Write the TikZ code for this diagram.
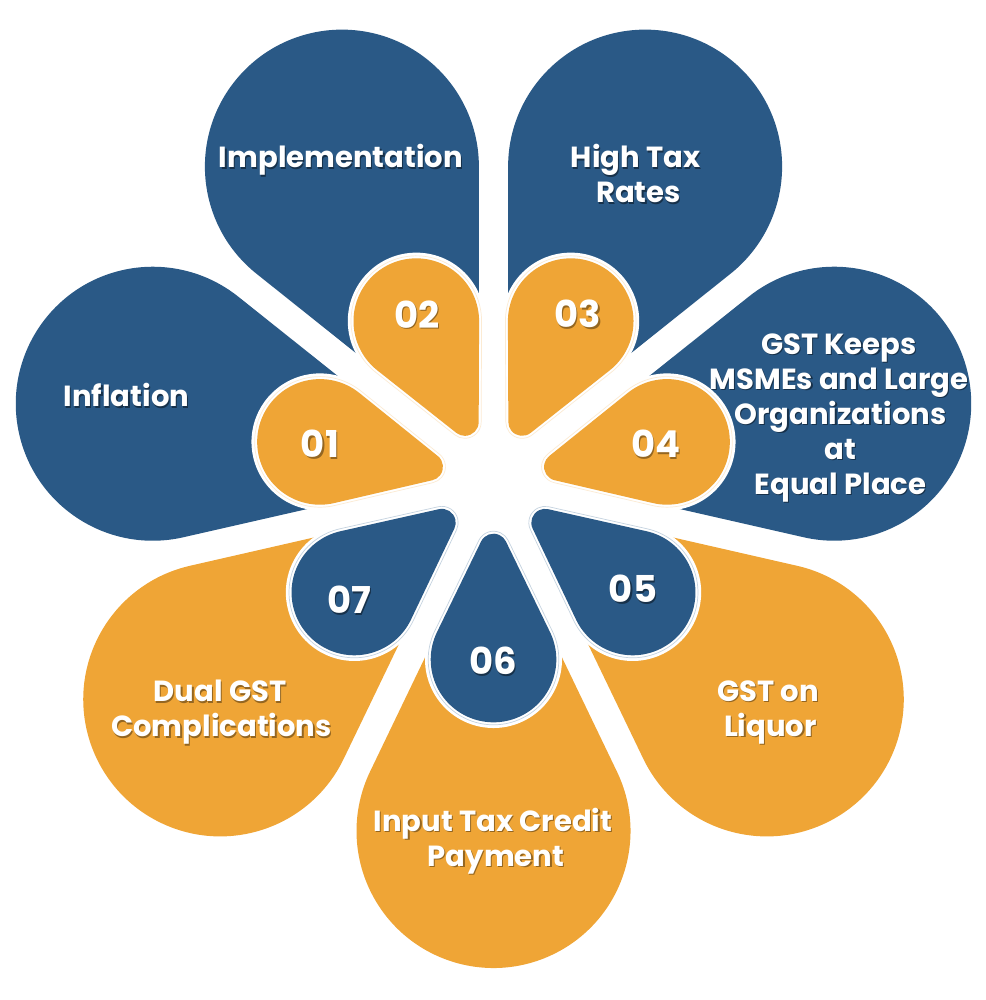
\documentclass[tikz,border=0pt]{standalone}
\usepackage{fontspec}
\setmainfont{Poppins}
\usetikzlibrary{calc}
\definecolor{pblue}{HTML}{2A5986}
\definecolor{porange}{HTML}{EFA536}
\definecolor{pbluefaint}{HTML}{C5D3E0}
\definecolor{porangefaint}{HTML}{FCEBD3}
\colorlet{shb}{pblue!55!black}
\colorlet{sho}{porange!62!black}
\tikzset{
  petaltext/.style={inner sep=0pt,align=center,text=white,font=\bfseries\fontsize{29.1}{35}\selectfont},
  numtext/.style={inner sep=0pt,align=center,text=white,font=\bfseries\fontsize{37}{40}\selectfont}
}
% text with a hard drop shadow inside one and the same node
\newcommand{\sh}[2]{\leavevmode\rlap{\raisebox{-1.6pt}{\hspace*{1.2pt}\textcolor{#1}{#2}}}#2}
\newcommand{\petalshape}[7]{% angle, d, R, d2, r, fill, draw opts
  \path[#6,#7] ($(O)+(#1:#2)+(#1-115.71:#3)$) arc[start angle=#1-115.71,end angle=#1+115.71,radius=#3]
    -- ($(O)+(#1:#4)+(#1+115.71:#5)$) arc[start angle=#1+115.71,end angle=#1+244.29,radius=#5] -- cycle;}
\newcommand{\bigpetal}[2]{\petalshape{#1}{349.5}{137}{33.8}{0.1}{fill=#2}{}}
\newcommand{\smallpetal}[3]{%
  \petalshape{#1}{178}{68.5}{66}{19.5}{fill=white}{}
  \petalshape{#1}{178}{65.3}{66}{16.3}{draw=#3}{line width=0.7pt}
  \petalshape{#1}{178}{62.8}{66}{13.8}{fill=#2}{}}
\begin{document}
\begin{tikzpicture}[x=1pt,y=-1pt]
\useasboundingbox (0,0) rectangle (985,1000);
\coordinate (O) at (493.5,481.5);
\bigpetal{-167.14}{pblue}
\bigpetal{-115.71}{pblue}
\bigpetal{-64.29}{pblue}
\bigpetal{-12.86}{pblue}
\bigpetal{38.57}{porange}
\bigpetal{90}{porange}
\bigpetal{141.43}{porange}
\fill[white] (O) circle[radius=140];
\smallpetal{-167.14}{porange}{porangefaint}
\smallpetal{-115.71}{porange}{porangefaint}
\smallpetal{-64.29}{porange}{porangefaint}
\smallpetal{-12.86}{porange}{porangefaint}
\smallpetal{38.57}{pblue}{pbluefaint}
\smallpetal{90}{pblue}{pbluefaint}
\smallpetal{141.43}{pblue}{pbluefaint}
\node[petaltext] (t1) at (126.5,396) {\sh{shb}{Inflation}};
\node[petaltext] (t2) at (341,161) {\sh{shb}{Implementation}};
\node[petaltext] (t3) at (635.5,174.5) {\sh{shb}{High Tax}\\\hspace*{6pt}\sh{shb}{Rates}};
\node[petaltext] (t4) at (839,418.5) {\sh{shb}{GST Keeps}\\\sh{shb}{MSMEs and Large}\\\hspace*{3pt}\sh{shb}{Organizations}\\\hspace*{3pt}\sh{shb}{at}\\\hspace*{3pt}\sh{shb}{Equal Place}};
\node[petaltext] (t5) at (768,713) {\sh{sho}{GST on}\\\hspace*{5pt}\sh{sho}{Liquor}};
\node[petaltext] (t6) at (221.5,713) {\hspace*{-3pt}\sh{sho}{Dual GST}\\\sh{sho}{Complications}};
\node[petaltext] (t7) at (493,841.5) {\sh{sho}{Input Tax Credit}\\\hspace*{6pt}\sh{sho}{Payment}};
\node[numtext] (n1) at (320,444.5) {\sh{sho}{01}};
\node[numtext] (n2) at (417,315) {\sh{sho}{02}};
\node[numtext] (n3) at (578,315) {\sh{sho}{03}};
\node[numtext] (n4) at (656,444.5) {\sh{sho}{04}};
\node[numtext] (n5) at (633,589.5) {\sh{shb}{05}};
\node[numtext] (n6) at (493,662) {\sh{shb}{06}};
\node[numtext] (n7) at (349,600.5) {\sh{shb}{07}};
\end{tikzpicture}
\end{document}
